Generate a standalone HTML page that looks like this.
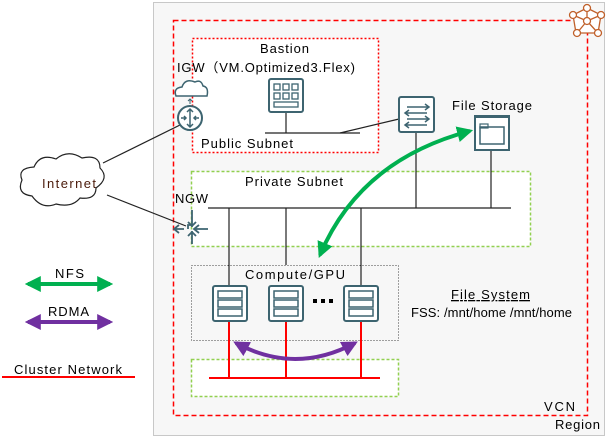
<!DOCTYPE html>
<html><head><meta charset="utf-8"><style>
body{margin:0;width:609px;height:441px;background:#fff;overflow:hidden}
svg text{font-family:"Liberation Sans","Noto Sans CJK JP",sans-serif;font-size:13px;fill:#000}
</style></head><body>
<svg width="609" height="441" viewBox="0 0 609 441" xmlns="http://www.w3.org/2000/svg">
<defs>
<marker id="ag" viewBox="0 0 10 10" refX="8" refY="5" markerWidth="4" markerHeight="4" orient="auto-start-reverse"><path d="M0,0L10,5L0,10z" fill="#00b050"/></marker>
<marker id="ap" viewBox="0 0 10 10" refX="8" refY="5" markerWidth="4" markerHeight="4" orient="auto-start-reverse"><path d="M0,0L10,5L0,10z" fill="#7030a0"/></marker>
<g id="srv"><rect x="0" y="0" width="34" height="35" rx="2" fill="#fff" stroke="#3d6470" stroke-width="2"/><rect x="5" y="5" width="24" height="7" fill="#fff" stroke="#3d6470" stroke-width="1.5"/><rect x="5" y="14" width="24" height="7" fill="#fff" stroke="#3d6470" stroke-width="1.5"/><rect x="5" y="23" width="24" height="7" fill="#fff" stroke="#3d6470" stroke-width="1.5"/></g>
</defs>
<rect x="153.5" y="2.5" width="451" height="433" fill="#f7f7f7" stroke="#c8c8c8"/>
<rect x="173.5" y="20.5" width="414" height="395" fill="none" stroke="#f00" stroke-width="1.5" stroke-dasharray="5,3"/>
<rect x="192.5" y="38.5" width="186" height="114" fill="#fff" stroke="#f00" stroke-width="1.5" stroke-dasharray="2,2"/>
<rect x="191.5" y="171.5" width="339" height="75" fill="#fff" stroke="#92d050" stroke-width="1.5" stroke-dasharray="3,2"/>
<rect x="191.5" y="265.5" width="207" height="75" fill="none" stroke="#444" stroke-dasharray="1,2"/>
<rect x="191.5" y="359.5" width="207" height="37" fill="#fff" stroke="#92d050" stroke-width="1.5" stroke-dasharray="3,2"/>
<!-- region icon -->
<g stroke="#c0602a" stroke-width="1.3" fill="#fff">
<path d="M587,8L601,15L598,33L576,33L573,15Z"/>
<line x1="587" y1="8" x2="587" y2="21"/><line x1="587" y1="21" x2="601" y2="15"/><line x1="587" y1="21" x2="573" y2="15"/><line x1="587" y1="21" x2="598" y2="33"/><line x1="587" y1="21" x2="577" y2="33"/>
<circle cx="587" cy="8" r="3.5"/><circle cx="601" cy="15" r="3.5"/><circle cx="598" cy="33" r="3.5"/><circle cx="577" cy="33" r="3.5"/><circle cx="573" cy="15" r="3.5"/><circle cx="587" cy="21" r="3.5"/>
</g>
<!-- lines -->
<g stroke="#222" stroke-width="1.2" fill="none">
<line x1="265" y1="133" x2="360" y2="133"/><line x1="286" y1="112" x2="286" y2="133"/>
<line x1="340" y1="133" x2="399" y2="119"/>
<line x1="208" y1="208" x2="511" y2="208"/>
<line x1="416" y1="131" x2="416" y2="208"/><line x1="491" y1="151" x2="491" y2="208"/>
<line x1="229" y1="208" x2="229" y2="286"/><line x1="286" y1="208" x2="286" y2="265"/><line x1="361" y1="208" x2="361" y2="286"/>
<line x1="103" y1="163" x2="180" y2="125"/><line x1="107" y1="195" x2="186" y2="226"/>
</g>
<g stroke="#f00" stroke-width="2">
<line x1="229" y1="321" x2="229" y2="378"/><line x1="286" y1="321" x2="286" y2="378"/><line x1="361" y1="321" x2="361" y2="378"/>
<line x1="209" y1="378" x2="380" y2="378"/><line x1="2" y1="377" x2="135" y2="377"/>
</g>
<use href="#srv" x="213" y="286"/><use href="#srv" x="269" y="286"/><use href="#srv" x="344" y="286"/>
<g fill="#000"><rect x="313" y="299" width="4" height="4"/><rect x="321" y="299" width="4" height="4"/><rect x="329" y="299" width="4" height="4"/></g>
<!-- bastion icon -->
<rect x="269" y="79" width="34" height="33" rx="2" fill="#fff" stroke="#3d6470" stroke-width="2"/>
<g fill="none" stroke="#3d6470" stroke-width="1.3"><rect x="274" y="84" width="6" height="6"/><rect x="283" y="84" width="6" height="6"/><rect x="292" y="84" width="6" height="6"/><rect x="274" y="93" width="6" height="6"/><rect x="283" y="93" width="6" height="6"/><rect x="292" y="93" width="6" height="6"/><rect x="274" y="102" width="24" height="5"/></g>
<!-- switch -->
<rect x="399" y="97" width="35" height="35" rx="2" fill="#fff" stroke="#3d6470" stroke-width="2"/>
<g stroke="#3d6470" stroke-width="1.5" fill="none"><path d="M407,107h22m-4,-3l4,3l-4,3"/><path d="M405,113h22m-18,-3l-4,3l4,3"/><path d="M407,119h22m-4,-3l4,3l-4,3"/><path d="M405,125h22m-18,-3l-4,3l4,3"/></g>
<!-- file storage -->
<rect x="475" y="117" width="34" height="33" fill="#fff" stroke="#3d6470" stroke-width="2"/>
<line x1="474" y1="116" x2="510" y2="116" stroke="#3d6470" stroke-width="2"/>
<rect x="480" y="127" width="24" height="17" fill="none" stroke="#3d6470" stroke-width="1.5"/><rect x="480" y="124" width="8" height="4" fill="none" stroke="#3d6470" stroke-width="1.2"/>
<!-- IGW -->
<path d="M176,96 q-3,-8 6,-9 q3,-9 13,-5 q6,-3 8,4 q6,1 4,10z" fill="#fff" stroke="#3d6470" stroke-width="1.5"/>
<path d="M190,99v5m-2,-3l2,-2l2,2" stroke="#3d6470" fill="none"/>
<circle cx="190" cy="118" r="12" fill="#fff" stroke="#3d6470" stroke-width="2"/>
<g stroke="#3d6470" stroke-width="1.5" fill="none"><path d="M190,109v18m-3,-15l3,-3l3,3m-6,12l3,3l3,-3"/><path d="M181,118h5m-2,-2l2,2l-2,2M199,118h-5m2,-2l-2,2l2,2"/></g>
<!-- NGW -->
<g stroke="#3d6470" stroke-width="1.8" fill="none"><path d="M192,210v17m-4,-5l4,4l4,-4"/><path d="M174,229h10m-5,-4l-5,4l5,4"/><path d="M208,229h-14m5,-4l-5,4l5,4"/><path d="M192,231v13m-4,-8l4,-4l4,4"/><path d="M188,229v-4h4"/></g>
<!-- Internet cloud -->
<path d="M32,196 q-16,-2 -10,-16 q-5,-12 12,-13 q6,-14 22,-8 q12,-10 26,-1 q18,-4 18,10 q10,10 -4,20 q0,12 -16,10 q-8,10 -24,6 q-14,6 -24,-8z" fill="#fff" stroke="#222" stroke-width="1.2"/>
<text x="42" y="188" textLength="54" style="fill:#4a1a0a">Internet</text>
<!-- arcs -->
<path d="M470,131 Q360,160 320,255" fill="none" stroke="#00b050" stroke-width="4" marker-end="url(#ag)" marker-start="url(#ag)"/>
<path d="M236,343 Q295,375 355,343" fill="none" stroke="#7030a0" stroke-width="4" marker-end="url(#ap)" marker-start="url(#ap)"/>
<line x1="28" y1="284" x2="110" y2="284" stroke="#00b050" stroke-width="4" marker-end="url(#ag)" marker-start="url(#ag)"/>
<line x1="28" y1="322" x2="110" y2="322" stroke="#7030a0" stroke-width="4" marker-end="url(#ap)" marker-start="url(#ap)"/>
<!-- text -->
<text x="260" y="53" textLength="49">Bastion</text>
<text x="177" y="72" textLength="178">IGW（VM.Optimized3.Flex)</text>
<text x="201" y="148" textLength="92">Public Subnet</text>
<text x="452" y="110" textLength="80">File Storage</text>
<text x="245" y="186" textLength="98">Private Subnet</text>
<text x="175" y="203" textLength="33">NGW</text>
<text x="245" y="279" textLength="100">Compute/GPU</text>
<text x="451" y="299" textLength="79" text-decoration="underline">File System</text>
<text x="411" y="317" font-size="11" textLength="161">FSS: /mnt/home /mnt/home</text>
<text x="55" y="278" textLength="29">NFS</text>
<text x="48" y="316" textLength="41">RDMA</text>
<text x="14" y="374" textLength="108">Cluster Network</text>
<text x="544" y="411" textLength="31">VCN</text>
<text x="555" y="429" textLength="45">Region</text>
</svg>
</body></html>
